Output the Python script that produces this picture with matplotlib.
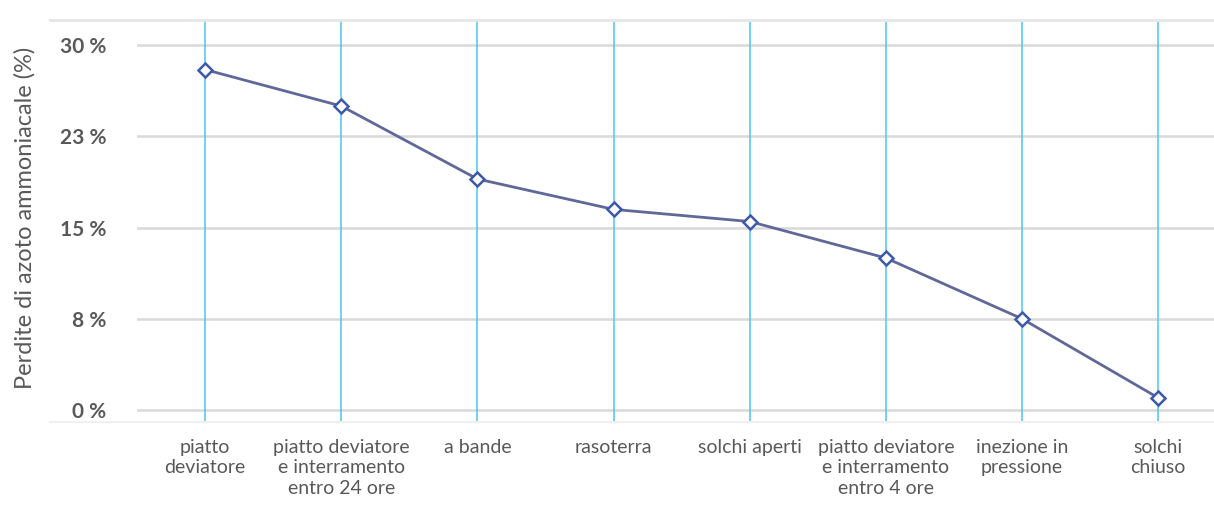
import matplotlib
matplotlib.use("Agg")
import matplotlib.pyplot as plt
from matplotlib.lines import Line2D

# Ammonia nitrogen losses by slurry spreading technique
techniques = [
    "piatto\ndeviatore",
    "piatto deviatore\ne interramento\nentro 24 ore",
    "a bande",
    "rasoterra",
    "solchi aperti",
    "piatto deviatore\ne interramento\nentro 4 ore",
    "inezione in\npressione",
    "solchi\nchiuso",
]
losses = [28.0, 25.0, 19.0, 16.5, 15.5, 12.5, 7.5, 1.0]

ytick_values = [0, 7.5, 15, 22.5, 30]
ytick_labels = ["0 %", "8 %", "15 %", "23 %", "30 %"]

TEXT = "#595959"
GRID = "#d9d9d9"
VLINE = "#4cc3f2"

plt.rcParams["font.family"] = ["Lato", "DejaVu Sans"]

fig = plt.figure(figsize=(12.14, 5.05), dpi=100)
ax = fig.add_axes([0.1129, 0.1644, 0.8871, 0.796])

xs = list(range(len(techniques)))

for y in ytick_values:
    ax.axhline(y, color=GRID, linewidth=1.8, zorder=1)
for x in xs:
    ax.axvline(x, color=VLINE, linewidth=1.1, zorder=2)

ax.plot(xs, losses, color="#5f6898", linewidth=2.0, zorder=3,
        marker="D", markersize=7, markerfacecolor="white",
        markeredgecolor="#3c5aa8", markeredgewidth=1.8)

ax.set_xlim(-0.5, 7.41)
ax.set_ylim(-0.99, 32.08)

ax.set_xticks(xs)
ax.set_xticklabels(techniques, fontsize=14, color=TEXT, linespacing=1.27,
                   verticalalignment="top")
ax.set_yticks(ytick_values)
ax.set_yticklabels(ytick_labels, fontsize=15, color=TEXT, fontweight="bold")
ax.tick_params(axis="x", length=0, pad=12)
ax.tick_params(axis="y", length=0, pad=22)

for side in ax.spines.values():
    side.set_visible(False)

fig.text(25 / 1214, 1 - 218 / 505, "Perdite di azoto ammoniacale (%)",
         rotation=90, ha="center", va="center", fontsize=17, color=TEXT)

# faint frame lines across the whole panel
fig.add_artist(Line2D([50 / 1214, 1.0], [1 - 20 / 505] * 2,
                      transform=fig.transFigure, color="#e6e6e6", linewidth=2))
fig.add_artist(Line2D([50 / 1214, 1.0], [1 - 422 / 505] * 2,
                      transform=fig.transFigure, color="#f0f0f0", linewidth=1.5))

fig.savefig("out.png", dpi=100)
